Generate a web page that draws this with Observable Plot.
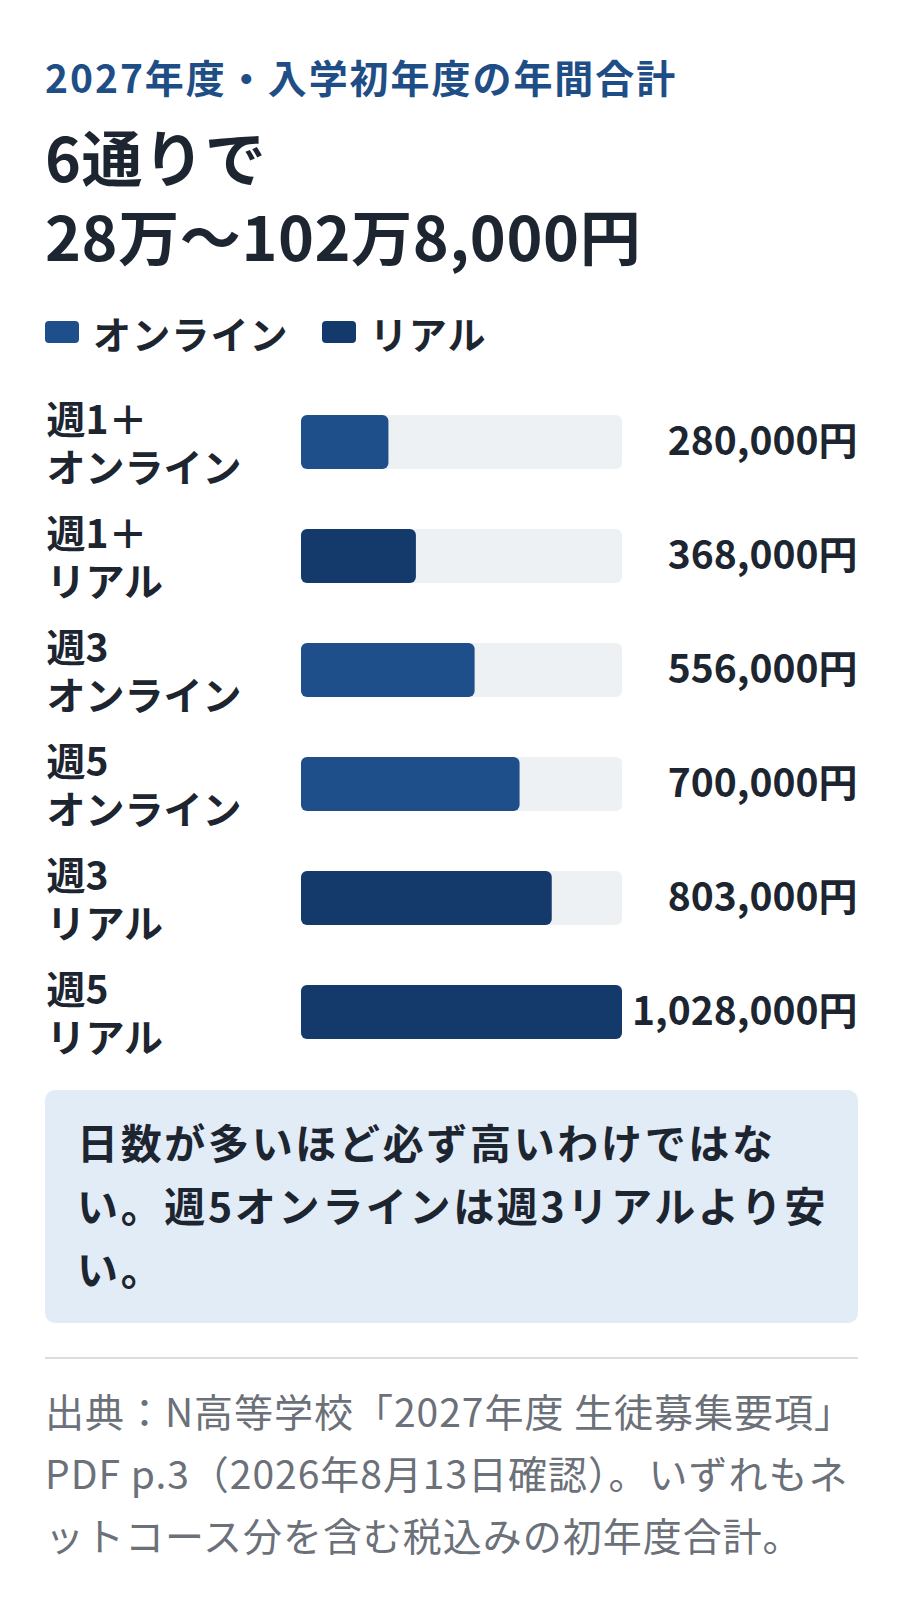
<!DOCTYPE html>
<html><head><meta charset="utf-8">
<script src="https://cdn.jsdelivr.net/npm/d3@7"></script>
<script src="https://cdn.jsdelivr.net/npm/@observablehq/plot@0.6"></script>
<style>
html,body{margin:0;padding:0;background:#fff;}
body{font-family:"Noto Sans CJK JP","Noto Sans",sans-serif;color:#1c2530;}
#wrap{width:813px;padding:0 0 0 45px;}
.kicker{margin-top:53px;font-size:39px;line-height:46px;font-weight:700;color:#1f4e87;letter-spacing:0.05em;}
h1{margin:17px 0 0 0;font-size:61px;line-height:79px;font-weight:700;color:#1c2530;letter-spacing:0.01em;}
.legend{margin-top:34px;height:48px;display:flex;align-items:center;font-size:38px;font-weight:700;}
.legend .sw{display:inline-block;width:34px;height:22px;border-radius:4px;margin-right:14px;}
.legend .item{display:flex;align-items:center;margin-right:33px;letter-spacing:0.03em;}
#chart{margin-top:29px;height:684px;}
#chart svg{display:block;}
.note{margin-top:21px;background:#e2ecf6;border-radius:10px;padding:20px 20px 24px 32px;font-size:41px;line-height:63px;font-weight:700;letter-spacing:0.065em;color:#1c2530;}
.rule{margin-top:34px;border-top:2px solid #dddddd;}
.source{margin-top:20px;font-size:39px;line-height:62px;color:#6b7079;font-weight:400;letter-spacing:0.025em;}
</style></head><body>
<div id="wrap">
<div class="kicker">2027年度・入学初年度の年間合計</div>
<h1>6通りで<br>28万〜102万8,000円</h1>
<div class="legend" id="legend"></div>
<div id="chart"></div>
<div class="note">日数が多いほど必ず高いわけではな<br>い。週5オンラインは週3リアルより安<br>い。</div>
<div class="rule"></div>
<div class="source">出典：N高等学校「2027年度 生徒募集要項」<br>PDF p.3（2026年8月13日確認）。いずれもネ<br>ットコース分を含む税込みの初年度合計。</div>
</div>
<script>
const categories = ["週1＋\nオンライン","週1＋\nリアル","週3\nオンライン","週5\nオンライン","週3\nリアル","週5\nリアル"];
const types = ["オンライン","リアル","オンライン","オンライン","リアル","リアル"];
const values = [280000,368000,556000,700000,803000,1028000];
const seriesNames = ["オンライン","リアル"];
const seriesColors = ["#1f4f8a","#133a6a"];

const data = categories.map((c,i)=>({label:c,type:types[i],value:values[i]}));
const maxV = d3.max(values);
const fmt = d3.format(",");

// legend
const lg = document.getElementById("legend");
seriesNames.forEach((n,i)=>{
  const it = document.createElement("span"); it.className="item";
  const sw = document.createElement("span"); sw.className="sw"; sw.style.background=seriesColors[i];
  it.appendChild(sw); it.appendChild(document.createTextNode(n));
  lg.appendChild(it);
});

const W = 813, ML = 256, MR = 236;
const chart = Plot.plot({
  width: W, height: 684,
  marginLeft: ML, marginRight: MR, marginTop: 0, marginBottom: 0,
  style: {fontFamily: '"Noto Sans CJK JP","Noto Sans",sans-serif', background: "transparent"},
  x: {domain: [0, maxV], axis: null},
  y: {domain: categories, axis: null, paddingInner: 0.526, paddingOuter: 0.263},
  color: {domain: seriesNames, range: seriesColors},
  marks: [
    Plot.barX(data, {y: "label", x: () => maxV, fill: "#edf1f4", rx: 6}),
    Plot.barX(data, {y: "label", x: "value", fill: "type", rx: 6}),
    Plot.text(data, {y: "label", text: "label", frameAnchor: "left", textAnchor: "start", dx: -ML + 1,
      fontSize: 39, fontWeight: 700, lineHeight: 1.22, fill: "#1c2530"}),
    Plot.text(data, {y: "label", text: d => fmt(d.value) + "円", frameAnchor: "right", textAnchor: "end", dx: MR - 1,
      fontSize: 39, fontWeight: 700, fill: "#1c2530"})
  ]
});
document.getElementById("chart").appendChild(chart);
</script>
</body></html>
